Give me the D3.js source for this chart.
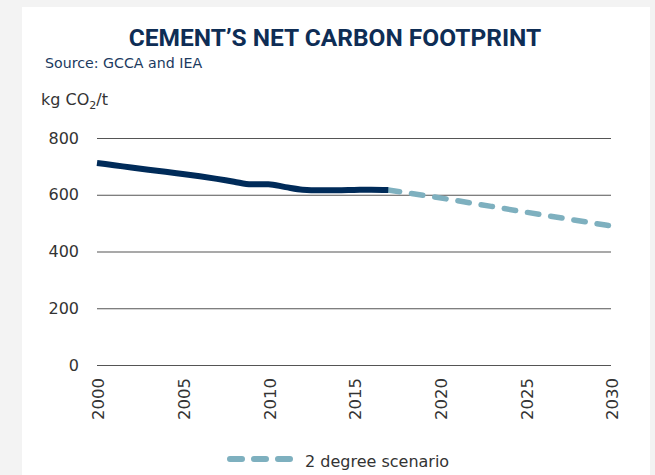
<!DOCTYPE html>
<html>
<head>
<meta charset="utf-8">
<script src="https://cdn.jsdelivr.net/npm/d3@7"></script>
<style>
  body { margin: 0; background: #f3f3f3; }
  svg { display: block; }
</style>
</head>
<body>
<div id="chart"></div>
<script>
// historical net footprint, kg CO2 per tonne of cement
var histYears = [2000, 2001, 2002, 2003, 2004, 2005, 2006, 2007, 2008, 2009, 2010, 2011, 2012, 2013, 2014, 2015, 2016, 2017];
var histValues = [712, 704, 696, 688, 681, 673, 665, 656, 646, 637, 637, 627, 618, 616, 616, 617, 618, 617];

// 2 degree scenario
var scenYears = [2017, 2020, 2025, 2030];
var scenValues = [617, 589, 539, 490];

var yTicks = [0, 200, 400, 600, 800];
var xTicks = [2000, 2005, 2010, 2015, 2020, 2025, 2030];

var W = 655, H = 475;
var bodyFont = "'DejaVu Sans', sans-serif";
var svg = d3.select("#chart").append("svg")
    .attr("width", W)
    .attr("height", H);

// white panel
svg.append("rect")
    .attr("x", 22).attr("y", 7)
    .attr("width", 628).attr("height", H)
    .attr("fill", "#fff");

var margin = {l: 97, r: 611, t: 138, b: 365};

var x = d3.scaleLinear().domain([2000, 2030]).range([margin.l, margin.r]);
var y = d3.scaleLinear().domain([0, 800]).range([margin.b, margin.t]);

svg.append("text")
    .attr("x", 335).attr("y", 46)
    .attr("text-anchor", "middle")
    .attr("font-family", "Roboto, sans-serif")
    .attr("font-weight", "bold")
    .attr("font-size", 24.5)
    .attr("fill", "#0e2d55")
    .text("CEMENT\u2019S NET CARBON FOOTPRINT");

svg.append("text")
    .attr("x", 45).attr("y", 68)
    .attr("font-family", bodyFont)
    .attr("font-size", 14.2)
    .attr("fill", "#1b3a60")
    .text("Source: GCCA and IEA");

var unit = svg.append("text")
    .attr("x", 41).attr("y", 105)
    .attr("font-family", bodyFont)
    .attr("font-size", 16)
    .attr("fill", "#333");
unit.append("tspan").text("kg CO");
unit.append("tspan").attr("font-size", 11).attr("dy", 4).text("2");
unit.append("tspan").attr("dy", -4).text("/t");

// y axis with gridlines
var yAxis = svg.append("g")
    .attr("transform", "translate(" + margin.l + ",0)")
    .call(d3.axisLeft(y).tickValues(yTicks).tickSize(-(margin.r - margin.l)).tickPadding(18));
yAxis.select(".domain").remove();
yAxis.selectAll(".tick line").attr("stroke", "#555").attr("stroke-width", 1.2);
yAxis.selectAll(".tick text")
    .attr("font-family", bodyFont)
    .attr("font-size", 16)
    .attr("fill", "#333");

// x axis, rotated labels
var xAxis = svg.append("g")
    .attr("transform", "translate(0," + margin.b + ")")
    .call(d3.axisBottom(x).tickValues(xTicks).tickFormat(d3.format("d")).tickSize(0));
xAxis.select(".domain").remove();
xAxis.selectAll(".tick text")
    .attr("font-family", bodyFont)
    .attr("font-size", 16.5)
    .attr("fill", "#333")
    .attr("text-anchor", "end")
    .attr("transform", "rotate(-90)")
    .attr("x", -13)
    .attr("y", 1)
    .attr("dy", "0.35em");

var line = d3.line()
    .x(function(d) { return x(d[0]); })
    .y(function(d) { return y(d[1]); })
    .curve(d3.curveMonotoneX);

svg.append("path")
    .datum(scenYears.map(function(yr, i) { return [yr, scenValues[i]]; }))
    .attr("d", line)
    .attr("fill", "none")
    .attr("stroke", "#7eb0bf")
    .attr("stroke-width", 5.5)
    .attr("stroke-linecap", "round")
    .attr("stroke-dasharray", "11.5,12");

svg.append("path")
    .datum(histYears.map(function(yr, i) { return [yr, histValues[i]]; }))
    .attr("d", line)
    .attr("fill", "none")
    .attr("stroke", "#002b59")
    .attr("stroke-width", 6);

// legend
var lg = svg.append("g").attr("transform", "translate(230,459)");
lg.append("line")
    .attr("x1", 0).attr("x2", 60)
    .attr("stroke", "#7eb0bf")
    .attr("stroke-width", 6)
    .attr("stroke-linecap", "round")
    .attr("stroke-dasharray", "12,12");
lg.append("text")
    .attr("x", 75).attr("y", 8)
    .attr("font-family", bodyFont)
    .attr("font-size", 16)
    .attr("fill", "#333")
    .text("2 degree scenario");
</script>
</body>
</html>
